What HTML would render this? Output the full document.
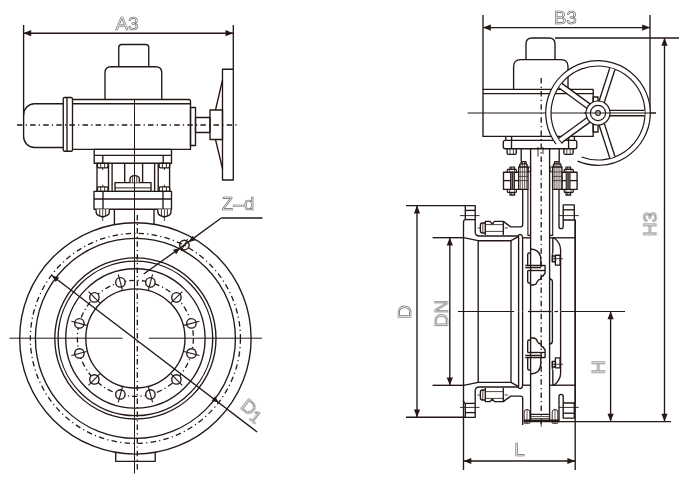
<!DOCTYPE html>
<html><head><meta charset="utf-8"><title>Valve drawing</title>
<style>
html,body{margin:0;padding:0;background:#fff;}
svg{display:block;font-family:"Liberation Sans",Arial,sans-serif;}
</style></head>
<body>
<svg width="699" height="500" viewBox="0 0 699 500">
<defs><filter id="nf" x="-20%" y="-20%" width="140%" height="140%" color-interpolation-filters="sRGB"><feOffset dx="0" dy="0"/></filter></defs>
<rect x="0" y="0" width="699" height="500" fill="#fff"/>
<g stroke="#231815" fill="none" stroke-linecap="butt" stroke-linejoin="round">
<line x1="23.60" y1="25.00" x2="23.60" y2="116.00" stroke-width="1.35" />
<line x1="233.30" y1="25.00" x2="233.30" y2="70.00" stroke-width="1.35" />
<line x1="23.40" y1="33.20" x2="233.30" y2="33.20" stroke-width="1.35" />
<polygon points="23.40,33.20 31.20,30.10 31.20,36.30" fill="#231815" stroke="none"/>
<polygon points="233.30,33.20 225.50,36.30 225.50,30.10" fill="#231815" stroke="none"/>
<text x="127.00" y="29.90" font-size="19" text-anchor="middle" fill="#f0efef" stroke="#686262" stroke-width="0.62" filter="url(#nf)">A3</text>
<path d="M118.75,66.75 V47.5 Q118.75,44.5 121.75,44.5 H145.75 Q148.75,44.5 148.75,47.5 V66.75" stroke-width="1.35" fill="none" />
<path d="M105,99.5 V72.75 Q105,66.75 111,66.75 H155.75 Q161.75,66.75 161.75,72.75 V99.5" stroke-width="1.35" fill="none" />
<path d="M72.5,99.5 H189 Q190.5,99.5 190.5,101 V149.4 H72.5" stroke-width="1.35" fill="none" />
<line x1="72.50" y1="103.75" x2="190.50" y2="103.75" stroke-width="1.35" />
<rect x="63.25" y="97.50" width="9.25" height="53.75" rx="1.5" stroke-width="1.35" fill="none" />
<line x1="67.00" y1="97.50" x2="67.00" y2="151.25" stroke-width="1.35" />
<path d="M63.25,103.7 H34.4 A11,11 0 0 0 23.6,114.7 V136.5 A11,11 0 0 0 34.4,147.5 H63.25" stroke-width="1.35" fill="none" />
<rect x="190.50" y="107.50" width="5.00" height="38.00" rx="0" stroke-width="1.35" fill="none" />
<rect x="195.50" y="117.50" width="14.50" height="15.00" rx="0" stroke-width="1.35" fill="none" />
<rect x="210.00" y="110.00" width="12.50" height="29.50" rx="0" stroke-width="1.35" fill="none" />
<rect x="222.50" y="69.25" width="10.80" height="110.75" rx="0" stroke-width="1.35" fill="none" />
<line x1="215.50" y1="110.00" x2="222.50" y2="80.00" stroke-width="1.35" />
<line x1="215.50" y1="139.50" x2="222.50" y2="168.75" stroke-width="1.35" />
<line x1="17.00" y1="125.00" x2="238.75" y2="125.00" stroke-width="1.3" stroke-dasharray="5.5 3.2 1.2 3.2"/>
<rect x="94.20" y="149.40" width="77.30" height="13.90" rx="0" stroke-width="1.35" fill="none" />
<line x1="94.20" y1="155.40" x2="171.50" y2="155.40" stroke-width="1.35" />
<line x1="102.80" y1="155.40" x2="102.80" y2="163.30" stroke-width="1.35" />
<line x1="163.20" y1="155.40" x2="163.20" y2="163.30" stroke-width="1.35" />
<line x1="97.00" y1="163.30" x2="97.00" y2="191.40" stroke-width="1.35" />
<line x1="108.50" y1="163.30" x2="108.50" y2="191.40" stroke-width="1.35" />
<line x1="112.10" y1="163.30" x2="112.10" y2="191.40" stroke-width="1.35" />
<line x1="124.70" y1="163.30" x2="124.70" y2="191.40" stroke-width="1.35" />
<line x1="142.60" y1="163.30" x2="142.60" y2="191.40" stroke-width="1.35" />
<line x1="154.60" y1="163.30" x2="154.60" y2="191.40" stroke-width="1.35" />
<line x1="158.20" y1="163.30" x2="158.20" y2="191.40" stroke-width="1.35" />
<line x1="169.60" y1="163.30" x2="169.60" y2="191.40" stroke-width="1.35" />
<path d="M97.4,163.3 V166.3 Q97.4,167.8 98.9,167.8 H106.5 Q108.0,167.8 108.0,166.3 V163.3 Z" stroke-width="1.35" fill="#fff" />
<path d="M97.4,191.4 V188.4 Q97.4,186.9 98.9,186.9 H106.5 Q108.0,186.9 108.0,188.4 V191.4 Z" stroke-width="1.35" fill="#fff" />
<line x1="100.70" y1="163.30" x2="100.70" y2="167.80" stroke-width="0.9" />
<line x1="100.70" y1="186.90" x2="100.70" y2="191.40" stroke-width="0.9" />
<line x1="104.70" y1="163.30" x2="104.70" y2="167.80" stroke-width="0.9" />
<line x1="104.70" y1="186.90" x2="104.70" y2="191.40" stroke-width="0.9" />
<line x1="102.70" y1="167.80" x2="102.70" y2="170.00" stroke-width="0.9" />
<line x1="102.70" y1="184.80" x2="102.70" y2="186.90" stroke-width="0.9" />
<path d="M159.1,163.3 V166.3 Q159.1,167.8 160.6,167.8 H168.20000000000002 Q169.70000000000002,167.8 169.70000000000002,166.3 V163.3 Z" stroke-width="1.35" fill="#fff" />
<path d="M159.1,191.4 V188.4 Q159.1,186.9 160.6,186.9 H168.20000000000002 Q169.70000000000002,186.9 169.70000000000002,188.4 V191.4 Z" stroke-width="1.35" fill="#fff" />
<line x1="162.40" y1="163.30" x2="162.40" y2="167.80" stroke-width="0.9" />
<line x1="162.40" y1="186.90" x2="162.40" y2="191.40" stroke-width="0.9" />
<line x1="166.40" y1="163.30" x2="166.40" y2="167.80" stroke-width="0.9" />
<line x1="166.40" y1="186.90" x2="166.40" y2="191.40" stroke-width="0.9" />
<line x1="164.40" y1="167.80" x2="164.40" y2="170.00" stroke-width="0.9" />
<line x1="164.40" y1="184.80" x2="164.40" y2="186.90" stroke-width="0.9" />
<rect x="115.00" y="182.60" width="36.00" height="8.80" rx="0" stroke-width="1.35" fill="#fff" />
<line x1="115.00" y1="187.90" x2="151.00" y2="187.90" stroke-width="1.0" />
<path d="M130,182.6 V179.5 Q130,175.6 134.6,175.6 Q139.4,175.6 139.4,179.5 V182.6" stroke-width="1.35" fill="#fff" />
<line x1="132.60" y1="176.20" x2="132.60" y2="182.60" stroke-width="0.8" />
<line x1="136.80" y1="176.20" x2="136.80" y2="182.60" stroke-width="0.8" />
<rect x="94.00" y="191.40" width="77.50" height="17.80" rx="0" stroke-width="1.35" fill="none" />
<line x1="94.00" y1="199.00" x2="171.50" y2="199.00" stroke-width="1.35" />
<line x1="103.00" y1="191.40" x2="103.00" y2="209.20" stroke-width="1.35" />
<line x1="163.00" y1="191.40" x2="163.00" y2="209.20" stroke-width="1.35" />
<path d="M96.10000000000001,209.2 V212 Q96.10000000000001,214.5 98.7,215.6 L102.7,217 L106.7,215.6 Q109.3,214.5 109.3,212 V209.2" stroke-width="1.35" fill="#fff" />
<line x1="99.70" y1="209.20" x2="99.70" y2="216.00" stroke-width="0.9" />
<line x1="105.70" y1="209.20" x2="105.70" y2="216.00" stroke-width="0.9" />
<line x1="102.70" y1="209.20" x2="102.70" y2="221.00" stroke-width="0.8" />
<path d="M157.8,209.2 V212 Q157.8,214.5 160.4,215.6 L164.4,217 L168.4,215.6 Q171.0,214.5 171.0,212 V209.2" stroke-width="1.35" fill="#fff" />
<line x1="161.40" y1="209.20" x2="161.40" y2="216.00" stroke-width="0.9" />
<line x1="167.40" y1="209.20" x2="167.40" y2="216.00" stroke-width="0.9" />
<line x1="164.40" y1="209.20" x2="164.40" y2="221.00" stroke-width="0.8" />
<line x1="114.40" y1="209.20" x2="114.40" y2="224.30" stroke-width="1.35" />
<line x1="154.00" y1="209.20" x2="154.00" y2="224.10" stroke-width="1.35" />
<path d="M115.7,452.4 V461.3 H155.2 V452.4" stroke-width="1.35" fill="none" />
<ellipse cx="135.4" cy="338.4" rx="115.7" ry="115.70" stroke-width="1.35" />
<ellipse cx="135.4" cy="338.4" rx="100.0" ry="100.00" stroke-width="1.35" />
<ellipse cx="135.4" cy="338.4" rx="80.6" ry="80.60" stroke-width="1.35" />
<ellipse cx="135.4" cy="338.4" rx="77.3" ry="77.30" stroke-width="1.35" />
<ellipse cx="135.4" cy="338.4" rx="69.7" ry="69.70" stroke-width="1.35" />
<ellipse cx="135.4" cy="338.4" rx="49.6" ry="49.60" stroke-width="1.35" />
<ellipse cx="135.4" cy="338.4" rx="105.05" ry="105.05" stroke-width="1.3" stroke-dasharray="5.5 3.2 1.2 3.2"/>
<ellipse cx="135.4" cy="338.4" rx="58" ry="58.00" stroke-width="1.3" stroke-dasharray="5.5 3 1.2 3"/>
<circle cx="191.42" cy="353.41" r="4.70" stroke-width="1.35" fill="#fff" />
<line x1="183.99" y1="351.42" x2="199.44" y2="355.56" stroke-width="1.1" />
<circle cx="176.41" cy="379.41" r="4.70" stroke-width="1.35" fill="#fff" />
<line x1="170.97" y1="373.97" x2="182.28" y2="385.28" stroke-width="1.1" />
<circle cx="150.41" cy="394.42" r="4.70" stroke-width="1.35" fill="#fff" />
<line x1="148.42" y1="386.99" x2="152.56" y2="402.44" stroke-width="1.1" />
<circle cx="120.39" cy="394.42" r="4.70" stroke-width="1.35" fill="#fff" />
<line x1="122.38" y1="386.99" x2="118.24" y2="402.44" stroke-width="1.1" />
<circle cx="94.39" cy="379.41" r="4.70" stroke-width="1.35" fill="#fff" />
<line x1="99.83" y1="373.97" x2="88.52" y2="385.28" stroke-width="1.1" />
<circle cx="79.38" cy="353.41" r="4.70" stroke-width="1.35" fill="#fff" />
<line x1="86.81" y1="351.42" x2="71.36" y2="355.56" stroke-width="1.1" />
<circle cx="79.38" cy="323.39" r="4.70" stroke-width="1.35" fill="#fff" />
<line x1="86.81" y1="325.38" x2="71.36" y2="321.24" stroke-width="1.1" />
<circle cx="94.39" cy="297.39" r="4.70" stroke-width="1.35" fill="#fff" />
<line x1="99.83" y1="302.83" x2="88.52" y2="291.52" stroke-width="1.1" />
<circle cx="120.39" cy="282.38" r="4.70" stroke-width="1.35" fill="#fff" />
<line x1="122.38" y1="289.81" x2="118.24" y2="274.36" stroke-width="1.1" />
<circle cx="150.41" cy="282.38" r="4.70" stroke-width="1.35" fill="#fff" />
<line x1="148.42" y1="289.81" x2="152.56" y2="274.36" stroke-width="1.1" />
<circle cx="176.41" cy="297.39" r="4.70" stroke-width="1.35" fill="#fff" />
<line x1="170.97" y1="302.83" x2="182.28" y2="291.52" stroke-width="1.1" />
<circle cx="191.42" cy="323.39" r="4.70" stroke-width="1.35" fill="#fff" />
<line x1="183.99" y1="325.38" x2="199.44" y2="321.24" stroke-width="1.1" />
<line x1="9.50" y1="338.20" x2="122.50" y2="338.20" stroke-width="1.0" />
<line x1="148.75" y1="338.20" x2="262.00" y2="338.20" stroke-width="1.0" />
<line x1="134.50" y1="99.50" x2="134.50" y2="473.50" stroke-width="1.0" />
<line x1="137.30" y1="215.00" x2="137.30" y2="472.00" stroke-width="1.3" stroke-dasharray="5.5 3.2 1.2 3.2"/>
<line x1="51.88" y1="275.57" x2="257.11" y2="431.92" stroke-width="1.35" />
<polygon points="51.88,275.57 59.14,277.59 55.75,282.04" fill="#231815" stroke="none"/>
<polygon points="218.92,402.83 211.66,400.81 215.05,396.36" fill="#231815" stroke="none"/>
<text x="248.60" y="414.60" font-size="19" text-anchor="middle" fill="#f0efef" stroke="#686262" stroke-width="0.62" filter="url(#nf)" transform="rotate(39 248.60 414.60)">D<tspan font-size="16" dy="3">1</tspan></text>
<circle cx="184.40" cy="245.00" r="4.80" stroke-width="1.35" fill="none" />
<line x1="221.25" y1="218.00" x2="262.50" y2="218.00" stroke-width="1.35" />
<line x1="221.25" y1="218.00" x2="180.32" y2="247.89" stroke-width="1.35" />
<polygon points="188.48,242.11 192.58,235.78 195.81,240.35" fill="#231815" stroke="none"/>
<line x1="143.75" y1="274.00" x2="180.32" y2="247.89" stroke-width="1.35" />
<polygon points="180.32,247.89 176.22,254.22 172.99,249.65" fill="#231815" stroke="none"/>
<line x1="181.11" y1="251.18" x2="187.69" y2="238.82" stroke-width="1.0" />
<text x="238.2" y="210.3" font-size="18.5" letter-spacing="0.4" text-anchor="middle" fill="#f0efef" stroke="#686262" stroke-width="0.62" filter="url(#nf)">Z–d</text>
<line x1="483.00" y1="15.00" x2="483.00" y2="89.40" stroke-width="1.35" />
<line x1="650.00" y1="15.00" x2="650.00" y2="113.00" stroke-width="1.35" />
<line x1="483.00" y1="27.60" x2="650.00" y2="27.60" stroke-width="1.35" />
<polygon points="483.00,27.60 490.80,24.50 490.80,30.70" fill="#231815" stroke="none"/>
<polygon points="650.00,27.60 642.20,30.70 642.20,24.50" fill="#231815" stroke="none"/>
<text x="565.30" y="24.20" font-size="19" text-anchor="middle" fill="#f0efef" stroke="#686262" stroke-width="0.62" filter="url(#nf)">B3</text>
<line x1="555.00" y1="38.00" x2="679.00" y2="38.00" stroke-width="1.35" />
<line x1="664.50" y1="38.00" x2="664.50" y2="421.60" stroke-width="1.35" />
<polygon points="664.50,38.00 667.60,45.80 661.40,45.80" fill="#231815" stroke="none"/>
<polygon points="664.50,421.60 661.40,413.80 667.60,413.80" fill="#231815" stroke="none"/>
<text x="656.40" y="224.00" font-size="19" text-anchor="middle" fill="#f0efef" stroke="#686262" stroke-width="0.62" filter="url(#nf)" transform="rotate(-90 656.40 224.00)">H3</text>
<line x1="610.60" y1="311.40" x2="610.60" y2="421.60" stroke-width="1.35" />
<polygon points="610.60,311.40 613.70,319.20 607.50,319.20" fill="#231815" stroke="none"/>
<polygon points="610.60,421.60 607.50,413.80 613.70,413.80" fill="#231815" stroke="none"/>
<text x="605.00" y="367.30" font-size="19" text-anchor="middle" fill="#f0efef" stroke="#686262" stroke-width="0.62" filter="url(#nf)" transform="rotate(-90 605.00 367.30)">H</text>
<line x1="524.00" y1="421.60" x2="671.00" y2="421.60" stroke-width="1.35" />
<line x1="406.00" y1="205.60" x2="465.30" y2="205.60" stroke-width="1.35" />
<line x1="406.00" y1="417.20" x2="465.30" y2="417.20" stroke-width="1.35" />
<line x1="417.00" y1="205.60" x2="417.00" y2="417.20" stroke-width="1.35" />
<polygon points="417.00,205.60 420.10,213.40 413.90,213.40" fill="#231815" stroke="none"/>
<polygon points="417.00,417.20 413.90,409.40 420.10,409.40" fill="#231815" stroke="none"/>
<text x="411.00" y="312.00" font-size="19" text-anchor="middle" fill="#f0efef" stroke="#686262" stroke-width="0.62" filter="url(#nf)" transform="rotate(-90 411.00 312.00)">D</text>
<line x1="432.60" y1="237.70" x2="463.50" y2="237.70" stroke-width="1.35" />
<line x1="432.60" y1="385.30" x2="463.50" y2="385.30" stroke-width="1.35" />
<line x1="449.80" y1="237.70" x2="449.80" y2="385.30" stroke-width="1.35" />
<polygon points="449.80,237.70 452.90,245.50 446.70,245.50" fill="#231815" stroke="none"/>
<polygon points="449.80,385.30 446.70,377.50 452.90,377.50" fill="#231815" stroke="none"/>
<text x="447.40" y="313.70" font-size="19" text-anchor="middle" fill="#f0efef" stroke="#686262" stroke-width="0.62" filter="url(#nf)" transform="rotate(-90 447.40 313.70)">DN</text>
<line x1="463.50" y1="222.50" x2="463.50" y2="470.00" stroke-width="1.35" />
<line x1="575.20" y1="220.00" x2="575.20" y2="470.00" stroke-width="1.35" />
<line x1="463.50" y1="461.00" x2="575.20" y2="461.00" stroke-width="1.35" />
<polygon points="463.50,461.00 471.30,457.90 471.30,464.10" fill="#231815" stroke="none"/>
<polygon points="575.20,461.00 567.40,464.10 567.40,457.90" fill="#231815" stroke="none"/>
<text x="519.50" y="456.40" font-size="19" text-anchor="middle" fill="#f0efef" stroke="#686262" stroke-width="0.62" filter="url(#nf)">L</text>
<path d="M526,59.6 V44 Q526,38 532,38 H549 Q555,38 555,44 V59.6" stroke-width="1.35" fill="none" />
<path d="M513.6,89.4 V66.6 Q513.6,59.6 520.6,59.6 H561 Q568,59.6 568,66.6 V89.4" stroke-width="1.35" fill="none" />
<rect x="483.00" y="89.40" width="110.20" height="47.00" rx="0" stroke-width="1.35" fill="none" />
<line x1="483.00" y1="93.60" x2="593.20" y2="93.60" stroke-width="1.35" />
<rect x="593.20" y="97.00" width="4.80" height="35.00" rx="0" stroke-width="1.35" fill="none" />
<line x1="467.60" y1="113.00" x2="656.00" y2="113.00" stroke-width="1.2" />
<line x1="505.80" y1="136.40" x2="505.80" y2="140.40" stroke-width="1.35" />
<line x1="511.60" y1="136.40" x2="511.60" y2="140.40" stroke-width="1.35" />
<line x1="568.60" y1="136.40" x2="568.60" y2="140.40" stroke-width="1.35" />
<line x1="574.40" y1="136.40" x2="574.40" y2="140.40" stroke-width="1.35" />
<rect x="503.30" y="140.40" width="73.50" height="8.30" rx="2" stroke-width="1.35" fill="none" />
<line x1="511.50" y1="140.40" x2="511.50" y2="148.70" stroke-width="1.35" />
<line x1="568.60" y1="140.40" x2="568.60" y2="148.70" stroke-width="1.35" />
<path d="M507.09999999999997,148.7 V153 Q507.09999999999997,154.4 508.5,154.4 H514.9 Q516.3,154.4 516.3,153 V148.7" stroke-width="1.35" fill="none" />
<line x1="510.00" y1="148.70" x2="510.00" y2="154.40" stroke-width="0.8" />
<line x1="513.40" y1="148.70" x2="513.40" y2="154.40" stroke-width="0.8" />
<path d="M563.9,148.7 V153 Q563.9,154.4 565.3,154.4 H571.7 Q573.1,154.4 573.1,153 V148.7" stroke-width="1.35" fill="none" />
<line x1="566.80" y1="148.70" x2="566.80" y2="154.40" stroke-width="0.8" />
<line x1="570.20" y1="148.70" x2="570.20" y2="154.40" stroke-width="0.8" />
<line x1="521.20" y1="148.70" x2="521.20" y2="161.60" stroke-width="1.35" />
<line x1="559.20" y1="148.70" x2="559.20" y2="161.60" stroke-width="1.35" />
<line x1="530.60" y1="148.70" x2="530.60" y2="414.50" stroke-width="1.35" />
<line x1="549.60" y1="148.70" x2="549.60" y2="414.50" stroke-width="1.35" />
<line x1="538.00" y1="147.00" x2="538.00" y2="156.70" stroke-width="0.9" />
<line x1="543.00" y1="147.00" x2="543.00" y2="154.00" stroke-width="0.9" />
<rect x="503.50" y="172.20" width="15.20" height="17.20" rx="0" stroke-width="1.35" fill="#fff" />
<line x1="503.50" y1="180.60" x2="518.70" y2="180.60" stroke-width="1.35" />
<path d="M507,172.2 L507.6,169.3 H516.1 L516.7,172.2" stroke-width="1.2" fill="none" />
<path d="M510,169.3 V167.0 H514.6 V169.3" stroke-width="1.2" fill="none" />
<line x1="511.50" y1="169.30" x2="511.50" y2="167.00" stroke-width="0.7" />
<line x1="513.10" y1="169.30" x2="513.10" y2="167.00" stroke-width="0.7" />
<line x1="509.60" y1="172.20" x2="509.60" y2="169.30" stroke-width="0.7" />
<line x1="514.60" y1="172.20" x2="514.60" y2="169.30" stroke-width="0.7" />
<path d="M507,189.4 L507.6,192.3 H516.1 L516.7,189.4" stroke-width="1.2" fill="none" />
<path d="M510,192.3 V195.2 H514.6 V192.3" stroke-width="1.2" fill="none" />
<line x1="511.50" y1="192.30" x2="511.50" y2="195.20" stroke-width="0.7" />
<line x1="513.10" y1="192.30" x2="513.10" y2="195.20" stroke-width="0.7" />
<line x1="509.60" y1="189.40" x2="509.60" y2="192.30" stroke-width="0.7" />
<line x1="514.60" y1="189.40" x2="514.60" y2="192.30" stroke-width="0.7" />
<rect x="510.60" y="172.20" width="3.80" height="17.20" rx="0" stroke-width="1.0" fill="#8a8080" />
<line x1="512.50" y1="172.20" x2="512.50" y2="189.40" stroke-width="0.8" />
<rect x="518.70" y="167.00" width="9.30" height="22.40" rx="0" stroke-width="1.35" fill="#fff" />
<path d="M519.6,167 V164.6 L520.4,163.8 H526.4 L527.2,164.6 V167" stroke-width="1.2" fill="none" />
<path d="M521.6,163.8 V161.6 H526 V163.8" stroke-width="1.1" fill="none" />
<line x1="520.70" y1="162.00" x2="520.70" y2="189.40" stroke-width="0.65" />
<line x1="522.60" y1="162.00" x2="522.60" y2="189.40" stroke-width="0.65" />
<line x1="524.50" y1="162.00" x2="524.50" y2="189.40" stroke-width="0.65" />
<line x1="526.30" y1="162.00" x2="526.30" y2="189.40" stroke-width="0.65" />
<line x1="518.70" y1="172.00" x2="528.00" y2="172.00" stroke-width="0.7" />
<line x1="518.70" y1="176.40" x2="528.00" y2="176.40" stroke-width="0.7" />
<line x1="518.70" y1="180.60" x2="528.00" y2="180.60" stroke-width="0.7" />
<rect x="528.00" y="167.00" width="2.60" height="4.80" rx="0" stroke-width="1.1" fill="none" />
<path d="M527.9,189.4 V235.4 H530.6" stroke-width="1.1" fill="none" />
<line x1="522.70" y1="189.40" x2="522.70" y2="198.00" stroke-width="1.35" />
<rect x="561.90" y="172.20" width="15.20" height="17.20" rx="0" stroke-width="1.35" fill="#fff" />
<line x1="577.10" y1="180.60" x2="561.90" y2="180.60" stroke-width="1.35" />
<path d="M573.5999999999999,172.2 L572.9999999999999,169.3 H564.4999999999999 L563.8999999999999,172.2" stroke-width="1.2" fill="none" />
<path d="M570.5999999999999,169.3 V167.0 H565.9999999999999 V169.3" stroke-width="1.2" fill="none" />
<line x1="569.10" y1="169.30" x2="569.10" y2="167.00" stroke-width="0.7" />
<line x1="567.50" y1="169.30" x2="567.50" y2="167.00" stroke-width="0.7" />
<line x1="571.00" y1="172.20" x2="571.00" y2="169.30" stroke-width="0.7" />
<line x1="566.00" y1="172.20" x2="566.00" y2="169.30" stroke-width="0.7" />
<path d="M573.5999999999999,189.4 L572.9999999999999,192.3 H564.4999999999999 L563.8999999999999,189.4" stroke-width="1.2" fill="none" />
<path d="M570.5999999999999,192.3 V195.2 H565.9999999999999 V192.3" stroke-width="1.2" fill="none" />
<line x1="569.10" y1="192.30" x2="569.10" y2="195.20" stroke-width="0.7" />
<line x1="567.50" y1="192.30" x2="567.50" y2="195.20" stroke-width="0.7" />
<line x1="571.00" y1="189.40" x2="571.00" y2="192.30" stroke-width="0.7" />
<line x1="566.00" y1="189.40" x2="566.00" y2="192.30" stroke-width="0.7" />
<rect x="566.20" y="172.20" width="3.80" height="17.20" rx="0" stroke-width="1.0" fill="#8a8080" />
<line x1="568.10" y1="172.20" x2="568.10" y2="189.40" stroke-width="0.8" />
<rect x="552.60" y="167.00" width="9.30" height="22.40" rx="0" stroke-width="1.35" fill="#fff" />
<path d="M560.9999999999999,167 V164.6 L560.1999999999999,163.8 H554.1999999999999 L553.3999999999999,164.6 V167" stroke-width="1.2" fill="none" />
<path d="M558.9999999999999,163.8 V161.6 H554.5999999999999 V163.8" stroke-width="1.1" fill="none" />
<line x1="559.90" y1="162.00" x2="559.90" y2="189.40" stroke-width="0.65" />
<line x1="558.00" y1="162.00" x2="558.00" y2="189.40" stroke-width="0.65" />
<line x1="556.10" y1="162.00" x2="556.10" y2="189.40" stroke-width="0.65" />
<line x1="554.30" y1="162.00" x2="554.30" y2="189.40" stroke-width="0.65" />
<line x1="561.90" y1="172.00" x2="552.60" y2="172.00" stroke-width="0.7" />
<line x1="561.90" y1="176.40" x2="552.60" y2="176.40" stroke-width="0.7" />
<line x1="561.90" y1="180.60" x2="552.60" y2="180.60" stroke-width="0.7" />
<rect x="550.00" y="167.00" width="2.60" height="4.80" rx="0" stroke-width="1.1" fill="none" />
<path d="M552.6999999999999,189.4 V235.4 H549.9999999999999" stroke-width="1.1" fill="none" />
<path d="M555.96,144.11 A52.3,52.3 0 1 1 577.56,161.14 L581.54,157.02 A47.0,47.0 0 1 0 562.26,143.52 Z" stroke-width="1.35" fill="#fff" stroke="none"/>
<path d="M555.96,144.11 A52.3,52.3 0 1 1 577.56,161.14" stroke-width="1.2" fill="none" />
<path d="M562.26,143.52 A47.0,47.0 0 1 1 581.54,157.02" stroke-width="1.2" fill="none" />
<polygon points="609.00,115.70 644.60,115.70 644.60,110.30 609.00,110.30" fill="#fff" stroke="none"/>
<line x1="609.00" y1="115.70" x2="644.60" y2="115.70" stroke-width="1.35" />
<line x1="609.00" y1="110.30" x2="644.60" y2="110.30" stroke-width="1.35" />
<polygon points="603.97,103.37 614.97,69.52 609.83,67.85 598.83,101.70" fill="#fff" stroke="none"/>
<line x1="603.97" y1="103.37" x2="614.97" y2="69.52" stroke-width="1.35" />
<line x1="598.83" y1="101.70" x2="609.83" y2="67.85" stroke-width="1.35" />
<polygon points="590.69,104.35 561.89,83.42 558.71,87.79 587.51,108.72" fill="#fff" stroke="none"/>
<line x1="590.69" y1="104.35" x2="561.89" y2="83.42" stroke-width="1.35" />
<line x1="587.51" y1="108.72" x2="558.71" y2="87.79" stroke-width="1.35" />
<polygon points="587.51,117.28 558.71,138.21 561.89,142.58 590.69,121.65" fill="#fff" stroke="none"/>
<line x1="587.51" y1="117.28" x2="558.71" y2="138.21" stroke-width="1.35" />
<line x1="590.69" y1="121.65" x2="561.89" y2="142.58" stroke-width="1.35" />
<polygon points="598.83,124.30 609.83,158.15 614.97,156.48 603.97,122.63" fill="#fff" stroke="none"/>
<line x1="598.83" y1="124.30" x2="609.83" y2="158.15" stroke-width="1.35" />
<line x1="603.97" y1="122.63" x2="614.97" y2="156.48" stroke-width="1.35" />
<circle cx="598.00" cy="113.00" r="12.00" stroke-width="1.2" fill="#fff" />
<circle cx="598.00" cy="113.00" r="7.60" stroke-width="1.2" fill="none" />
<circle cx="598.00" cy="113.00" r="2.40" stroke-width="1.1" fill="none" />
<line x1="584.00" y1="113.00" x2="656.00" y2="113.00" stroke-width="1.2" />
<line x1="541.20" y1="78.00" x2="541.20" y2="424.00" stroke-width="1.3" stroke-dasharray="5.5 3.2 1.2 3.2"/>
<path d="M463.50,222.70 Q463.50,219.60 465.30,219.60 L465.30,205.60 L475.20,205.60 L475.20,232.00 Q475.20,236.00 479.20,236.00 L517.50,236.00 Q519.50,234.00 521.00,234.60 Q522.60,235.20 522.60,238.00 " stroke-width="1.35" fill="none" />
<line x1="465.30" y1="210.40" x2="475.20" y2="210.40" stroke-width="1.35" />
<line x1="465.30" y1="219.60" x2="475.20" y2="219.60" stroke-width="1.35" />
<line x1="460.00" y1="215.60" x2="479.50" y2="215.60" stroke-width="0.9" />
<path d="M463.50,237.70 L478.20,240.70 L511.00,240.70 L518.70,236.30 " stroke-width="1.35" fill="none" />
<line x1="478.20" y1="240.70" x2="478.20" y2="311.50" stroke-width="1.35" />
<line x1="511.00" y1="240.70" x2="511.00" y2="311.50" stroke-width="1.35" />
<line x1="518.60" y1="236.30" x2="518.60" y2="311.50" stroke-width="1.35" />
<line x1="522.60" y1="238.00" x2="522.60" y2="311.50" stroke-width="1.35" />
<path d="M485.30,223.00 L482.40,223.00 Q480.40,223.00 480.40,225.00 L480.40,231.00 Q480.40,233.00 482.40,233.00 L485.30,233.00 " stroke-width="1.35" fill="none" />
<line x1="482.80" y1="223.00" x2="482.80" y2="233.00" stroke-width="0.8" />
<path d="M485.30,235.00 L485.30,221.40 L490.00,221.40 L492.30,224.00 L494.50,221.40 L503.30,221.40 L503.30,235.00 " stroke-width="1.35" fill="none" />
<line x1="485.30" y1="224.60" x2="503.30" y2="224.60" stroke-width="0.8" />
<line x1="485.30" y1="231.40" x2="503.30" y2="231.40" stroke-width="0.8" />
<line x1="477.50" y1="228.00" x2="481.00" y2="228.00" stroke-width="0.8" />
<line x1="504.50" y1="228.00" x2="508.00" y2="228.00" stroke-width="0.8" />
<path d="M503.30,221.40 L510.60,226.90 L520.60,226.90 Q522.70,226.90 522.70,224.80 L522.70,198.00 " stroke-width="1.35" fill="none" />
<line x1="522.60" y1="237.80" x2="530.60" y2="237.80" stroke-width="1.35" />
<line x1="549.60" y1="237.80" x2="575.20" y2="237.80" stroke-width="1.35" />
<path d="M559.00,189.40 L559.00,226.40 Q559.00,228.60 561.10,228.60 Q563.20,228.60 563.20,226.40 L563.20,204.90 L574.30,204.90 L574.30,220.00 L563.20,220.00 " stroke-width="1.35" fill="none" />
<line x1="563.20" y1="209.80" x2="574.30" y2="209.80" stroke-width="1.35" />
<line x1="559.00" y1="215.60" x2="578.80" y2="215.60" stroke-width="0.9" />
<path d="M574.30,220.00 L575.20,220.00 L575.20,311.50 " stroke-width="1.35" fill="none" />
<path d="M552.80,253.60 L552.80,237.80 L554.00,237.80 Q560.60,243.00 560.60,250.00 L560.60,311.50 " stroke-width="1.35" fill="none" />
<path d="M552.40,256.00 L555.40,256.00 L555.40,261.70 L552.40,261.70 Z " stroke-width="1.35" fill="none" />
<path d="M555.40,255.20 L560.10,255.20 L560.10,265.10 L555.40,265.10 Z " stroke-width="1.35" fill="none" />
<line x1="552.40" y1="253.60" x2="552.40" y2="262.00" stroke-width="1.35" />
<line x1="552.80" y1="258.70" x2="563.00" y2="258.70" stroke-width="0.8" />
<path d="M549.60,279.00 Q552.40,279.00 552.40,282.00 L552.40,311.50 " stroke-width="1.35" fill="none" />
<path d="M530.60,249.00 Q540.80,249.50 540.80,260.00 L540.80,265.50 " stroke-width="1.35" fill="none" />
<path d="M530.60,253.00 L529.20,253.00 Q527.70,253.00 527.70,254.50 L527.70,265.50 " stroke-width="1.35" fill="none" />
<path d="M525.30,265.50 L545.10,265.50 L545.10,273.00 L543.00,276.00 Q541.00,276.00 541.00,279.00 Q538.00,279.50 537.00,282.00 Q536.50,285.00 533.00,285.00 L530.60,285.00 " stroke-width="1.35" fill="none" />
<line x1="525.30" y1="267.60" x2="541.00" y2="267.60" stroke-width="1.35" />
<line x1="527.70" y1="270.50" x2="545.10" y2="270.50" stroke-width="1.35" />
<path d="M527.70,270.50 L527.70,281.50 Q527.70,283.00 529.20,283.00 L530.60,283.00 " stroke-width="1.35" fill="none" />
<path d="M463.50,400.30 Q463.50,403.40 465.30,403.40 L465.30,417.40 L475.20,417.40 L475.20,391.00 Q475.20,387.00 479.20,387.00 L517.50,387.00 Q519.50,389.00 521.00,388.40 Q522.60,387.80 522.60,385.00 " stroke-width="1.35" fill="none" />
<line x1="465.30" y1="412.60" x2="475.20" y2="412.60" stroke-width="1.35" />
<line x1="465.30" y1="403.40" x2="475.20" y2="403.40" stroke-width="1.35" />
<line x1="460.00" y1="407.40" x2="479.50" y2="407.40" stroke-width="0.9" />
<path d="M463.50,385.30 L478.20,382.30 L511.00,382.30 L518.70,386.70 " stroke-width="1.35" fill="none" />
<line x1="478.20" y1="382.30" x2="478.20" y2="311.50" stroke-width="1.35" />
<line x1="511.00" y1="382.30" x2="511.00" y2="311.50" stroke-width="1.35" />
<line x1="518.60" y1="386.70" x2="518.60" y2="311.50" stroke-width="1.35" />
<line x1="522.60" y1="385.00" x2="522.60" y2="311.50" stroke-width="1.35" />
<path d="M485.30,400.00 L482.40,400.00 Q480.40,400.00 480.40,398.00 L480.40,392.00 Q480.40,390.00 482.40,390.00 L485.30,390.00 " stroke-width="1.35" fill="none" />
<line x1="482.80" y1="400.00" x2="482.80" y2="390.00" stroke-width="0.8" />
<path d="M485.30,388.00 L485.30,401.60 L490.00,401.60 L492.30,399.00 L494.50,401.60 L503.30,401.60 L503.30,388.00 " stroke-width="1.35" fill="none" />
<line x1="485.30" y1="398.40" x2="503.30" y2="398.40" stroke-width="0.8" />
<line x1="485.30" y1="391.60" x2="503.30" y2="391.60" stroke-width="0.8" />
<line x1="477.50" y1="395.00" x2="481.00" y2="395.00" stroke-width="0.8" />
<line x1="504.50" y1="395.00" x2="508.00" y2="395.00" stroke-width="0.8" />
<path d="M503.30,401.60 L510.60,396.10 L520.60,396.10 Q522.70,396.10 522.70,398.20 L522.70,425.00 " stroke-width="1.35" fill="none" />
<line x1="522.60" y1="385.20" x2="530.60" y2="385.20" stroke-width="1.35" />
<line x1="549.60" y1="385.20" x2="575.20" y2="385.20" stroke-width="1.35" />
<path d="M559.00,421.40 L559.00,396.60 Q559.00,394.40 561.10,394.40 Q563.20,394.40 563.20,396.60 L563.20,418.10 L574.30,418.10 L574.30,403.00 L563.20,403.00 " stroke-width="1.35" fill="none" />
<line x1="563.20" y1="413.20" x2="574.30" y2="413.20" stroke-width="1.35" />
<line x1="559.00" y1="407.40" x2="578.80" y2="407.40" stroke-width="0.9" />
<path d="M574.30,403.00 L575.20,403.00 L575.20,311.50 " stroke-width="1.35" fill="none" />
<path d="M552.80,369.40 L552.80,385.20 L554.00,385.20 Q560.60,380.00 560.60,373.00 L560.60,311.50 " stroke-width="1.35" fill="none" />
<path d="M552.40,367.00 L555.40,367.00 L555.40,361.30 L552.40,361.30 Z " stroke-width="1.35" fill="none" />
<path d="M555.40,367.80 L560.10,367.80 L560.10,357.90 L555.40,357.90 Z " stroke-width="1.35" fill="none" />
<line x1="552.40" y1="369.40" x2="552.40" y2="361.00" stroke-width="1.35" />
<line x1="552.80" y1="364.30" x2="563.00" y2="364.30" stroke-width="0.8" />
<path d="M549.60,344.00 Q552.40,344.00 552.40,341.00 L552.40,311.50 " stroke-width="1.35" fill="none" />
<path d="M530.60,374.00 Q540.80,373.50 540.80,363.00 L540.80,357.50 " stroke-width="1.35" fill="none" />
<path d="M530.60,370.00 L529.20,370.00 Q527.70,370.00 527.70,368.50 L527.70,357.50 " stroke-width="1.35" fill="none" />
<path d="M525.30,357.50 L545.10,357.50 L545.10,350.00 L543.00,347.00 Q541.00,347.00 541.00,344.00 Q538.00,343.50 537.00,341.00 Q536.50,338.00 533.00,338.00 L530.60,338.00 " stroke-width="1.35" fill="none" />
<line x1="525.30" y1="355.40" x2="541.00" y2="355.40" stroke-width="1.35" />
<line x1="527.70" y1="352.50" x2="545.10" y2="352.50" stroke-width="1.35" />
<path d="M527.70,352.50 L527.70,341.50 Q527.70,340.00 529.20,340.00 L530.60,340.00 " stroke-width="1.35" fill="none" />
<line x1="458.00" y1="311.50" x2="514.00" y2="311.50" stroke-width="1.2" />
<line x1="528.00" y1="311.50" x2="551.50" y2="311.50" stroke-width="1.2" />
<line x1="554.50" y1="311.50" x2="558.00" y2="311.50" stroke-width="1.2" />
<line x1="561.00" y1="311.50" x2="625.00" y2="311.50" stroke-width="1.2" />
<line x1="524.00" y1="420.20" x2="559.00" y2="420.20" stroke-width="1.35" />
<rect x="530.60" y="414.40" width="19.00" height="6.40" rx="0" stroke-width="1.35" fill="none" />
<line x1="530.60" y1="416.60" x2="549.60" y2="416.60" stroke-width="0.8" />
<line x1="530.60" y1="418.60" x2="549.60" y2="418.60" stroke-width="0.8" />
<path d="M524.2,420.2 V412 Q524.2,409.5 527,409.5 Q529.8,409.5 529.8,412 V423.2 H524.2 Z" stroke-width="0.9" fill="none" />
<line x1="527.00" y1="409.00" x2="527.00" y2="424.00" stroke-width="0.7" />
<path d="M552.2,420.2 V412 Q552.2,409.5 555,409.5 Q557.8,409.5 557.8,412 V423.2 H552.2 Z" stroke-width="0.9" fill="none" />
<line x1="555.00" y1="409.00" x2="555.00" y2="424.00" stroke-width="0.7" />
<line x1="541.20" y1="421.00" x2="541.20" y2="426.50" stroke-width="0.9" />
</g>
</svg>
</body></html>
